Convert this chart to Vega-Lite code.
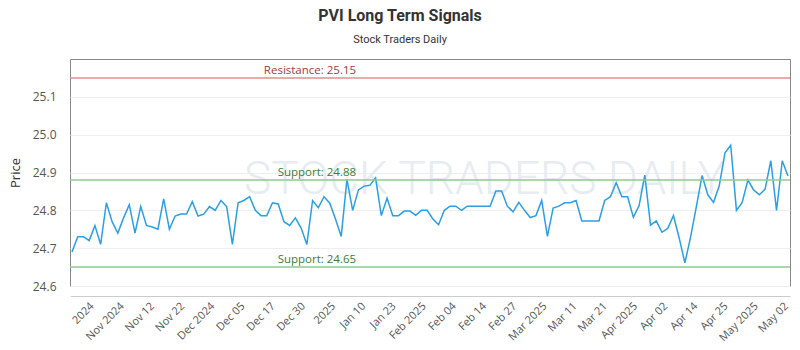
{
  "$schema": "https://vega.github.io/schema/vega-lite/v6.json",
  "width": 720,
  "height": 227,
  "autosize": {"type": "none"},
  "padding": {"left": 70, "top": 59, "right": 10, "bottom": 64},
  "background": "white",
  "title": {
    "text": "PVI Long Term Signals",
    "subtitle": "Stock Traders Daily",
    "anchor": "middle",
    "dx": -30,
    "font": "Roboto",
    "fontSize": 16,
    "fontWeight": "bold",
    "color": "#333333",
    "subtitleFont": "Roboto",
    "subtitleFontSize": 11,
    "subtitleColor": "#333333",
    "subtitlePadding": 10,
    "offset": 14
  },
  "config": {
    "view": {"stroke": "#888888", "strokeWidth": 1},
    "font": "Roboto",
    "axisX": {"labelOverlap": false, "labelBound": false}
  },
  "resolve": {"axis": {"x": "independent"}},
  "data": {
    "values": [
      {"i": 0, "price": 24.69}, {"i": 1, "price": 24.73}, {"i": 2, "price": 24.73}, {"i": 3, "price": 24.72},
      {"i": 4, "price": 24.76}, {"i": 5, "price": 24.71}, {"i": 6, "price": 24.82}, {"i": 7, "price": 24.77},
      {"i": 8, "price": 24.74}, {"i": 9, "price": 24.78}, {"i": 10, "price": 24.815}, {"i": 11, "price": 24.74},
      {"i": 12, "price": 24.81}, {"i": 13, "price": 24.76}, {"i": 14, "price": 24.756}, {"i": 15, "price": 24.75},
      {"i": 16, "price": 24.83}, {"i": 17, "price": 24.75}, {"i": 18, "price": 24.785}, {"i": 19, "price": 24.79},
      {"i": 20, "price": 24.79}, {"i": 21, "price": 24.823}, {"i": 22, "price": 24.785}, {"i": 23, "price": 24.79},
      {"i": 24, "price": 24.81}, {"i": 25, "price": 24.8}, {"i": 26, "price": 24.826}, {"i": 27, "price": 24.81},
      {"i": 28, "price": 24.71}, {"i": 29, "price": 24.82}, {"i": 30, "price": 24.826}, {"i": 31, "price": 24.836},
      {"i": 32, "price": 24.8}, {"i": 33, "price": 24.786}, {"i": 34, "price": 24.786}, {"i": 35, "price": 24.82},
      {"i": 36, "price": 24.817}, {"i": 37, "price": 24.77}, {"i": 38, "price": 24.76}, {"i": 39, "price": 24.78},
      {"i": 40, "price": 24.753}, {"i": 41, "price": 24.71}, {"i": 42, "price": 24.826}, {"i": 43, "price": 24.807},
      {"i": 44, "price": 24.836}, {"i": 45, "price": 24.819}, {"i": 46, "price": 24.777}, {"i": 47, "price": 24.731},
      {"i": 48, "price": 24.882}, {"i": 49, "price": 24.8}, {"i": 50, "price": 24.854}, {"i": 51, "price": 24.864},
      {"i": 52, "price": 24.866}, {"i": 53, "price": 24.886}, {"i": 54, "price": 24.786}, {"i": 55, "price": 24.832},
      {"i": 56, "price": 24.786}, {"i": 57, "price": 24.786}, {"i": 58, "price": 24.798}, {"i": 59, "price": 24.798},
      {"i": 60, "price": 24.787}, {"i": 61, "price": 24.8}, {"i": 62, "price": 24.8}, {"i": 63, "price": 24.777},
      {"i": 64, "price": 24.762}, {"i": 65, "price": 24.8}, {"i": 66, "price": 24.811}, {"i": 67, "price": 24.811},
      {"i": 68, "price": 24.8}, {"i": 69, "price": 24.811}, {"i": 70, "price": 24.811}, {"i": 71, "price": 24.811},
      {"i": 72, "price": 24.811}, {"i": 73, "price": 24.811}, {"i": 74, "price": 24.851}, {"i": 75, "price": 24.851},
      {"i": 76, "price": 24.811}, {"i": 77, "price": 24.796}, {"i": 78, "price": 24.821}, {"i": 79, "price": 24.8},
      {"i": 80, "price": 24.781}, {"i": 81, "price": 24.786}, {"i": 82, "price": 24.826}, {"i": 83, "price": 24.731},
      {"i": 84, "price": 24.806}, {"i": 85, "price": 24.811}, {"i": 86, "price": 24.82}, {"i": 87, "price": 24.82},
      {"i": 88, "price": 24.826}, {"i": 89, "price": 24.772}, {"i": 90, "price": 24.772}, {"i": 91, "price": 24.772},
      {"i": 92, "price": 24.772}, {"i": 93, "price": 24.826}, {"i": 94, "price": 24.836}, {"i": 95, "price": 24.873},
      {"i": 96, "price": 24.836}, {"i": 97, "price": 24.836}, {"i": 98, "price": 24.782}, {"i": 99, "price": 24.812},
      {"i": 100, "price": 24.893}, {"i": 101, "price": 24.761}, {"i": 102, "price": 24.772}, {"i": 103, "price": 24.742},
      {"i": 104, "price": 24.752}, {"i": 105, "price": 24.786}, {"i": 106, "price": 24.727}, {"i": 107, "price": 24.661},
      {"i": 108, "price": 24.73}, {"i": 109, "price": 24.81}, {"i": 110, "price": 24.892}, {"i": 111, "price": 24.841},
      {"i": 112, "price": 24.821}, {"i": 113, "price": 24.865}, {"i": 114, "price": 24.952}, {"i": 115, "price": 24.972},
      {"i": 116, "price": 24.8}, {"i": 117, "price": 24.821}, {"i": 118, "price": 24.88}, {"i": 119, "price": 24.854},
      {"i": 120, "price": 24.841}, {"i": 121, "price": 24.856}, {"i": 122, "price": 24.931}, {"i": 123, "price": 24.8},
      {"i": 124, "price": 24.931}, {"i": 125, "price": 24.891}
    ]
  },
  "layer": [
    {
      "data": {"values": [{"wm": "STOCK TRADERS DAILY"}]},
      "mark": {"type": "text", "font": "Roboto", "fontSize": 46, "fontWeight": 300, "color": "#e6ecf1", "align": "center", "baseline": "middle"},
      "encoding": {
        "x": {"datum": 72, "axis": null},
        "y": {"datum": 24.88},
        "text": {"field": "wm"}
      }
    },
    {
      "mark": {"type": "line", "color": "#2a9fe5", "strokeWidth": 1.5},
      "encoding": {
        "x": {
          "field": "i",
          "type": "quantitative",
          "scale": {"domain": [-0.35, 125.35], "nice": false, "zero": false},
          "axis": {
            "title": null,
            "values": [3.79, 9.06, 14.33, 19.6, 24.87, 30.14, 35.41, 40.68, 45.95, 51.22, 56.49, 61.76, 67.03, 72.3, 77.57, 82.84, 88.11, 93.38, 98.65, 103.92, 109.19, 114.46, 119.73, 125],
            "labelExpr": "['2024','Nov 2024','Nov 12','Nov 22','Dec 2024','Dec 05','Dec 17','Dec 30','2025','Jan 10','Jan 23','Feb 2025','Feb 04','Feb 14','Feb 27','Mar 2025','Mar 11','Mar 21','Apr 2025','Apr 02','Apr 14','Apr 25','May 2025','May 02'][round((datum.value - 3.79) / 5.27)]",
            "labelAngle": -45,
            "labelFont": "Open Sans",
            "labelFontSize": 11,
            "labelColor": "#555555",
            "labelPadding": 4,
            "labelOffset": -6,
            "labelOverlap": false,
            "offset": 10,
            "domainColor": "#cccccc",
            "ticks": false,
            "grid": false
          }
        },
        "y": {
          "field": "price",
          "type": "quantitative",
          "scale": {"domain": [24.6, 25.2], "nice": false, "zero": false},
          "axis": {
            "title": "Price",
            "values": [24.6, 24.7, 24.8, 24.9, 25.0, 25.1],
            "format": ".1f",
            "grid": true,
            "gridColor": "#eeeeee",
            "domain": false,
            "ticks": false,
            "labelPadding": 14,
            "labelFont": "Open Sans",
            "labelFontSize": 12,
            "labelColor": "#555555",
            "titleFont": "Open Sans",
            "titleFontSize": 13,
            "titleFontWeight": "normal",
            "titleColor": "#333333",
            "titlePadding": 10
          }
        }
      }
    },
    {
      "data": {
        "values": [
          {"level": 25.15, "kind": "Resistance", "label": "Resistance: 25.15"},
          {"level": 24.88, "kind": "Support", "label": "Support: 24.88"},
          {"level": 24.65, "kind": "Support", "label": "Support: 24.65"}
        ]
      },
      "layer": [
        {
          "mark": {"type": "rule", "strokeWidth": 1.5},
          "encoding": {
            "y": {"field": "level", "type": "quantitative"},
            "stroke": {
              "field": "kind",
              "type": "nominal",
              "scale": {"domain": ["Resistance", "Support"], "range": ["#e08e8e", "#90c890"]},
              "legend": null
            }
          }
        },
        {
          "mark": {"type": "text", "align": "right", "baseline": "bottom", "dy": -2, "font": "Open Sans", "fontSize": 11.5},
          "encoding": {
            "x": {"datum": 49.6, "axis": null},
            "y": {"field": "level", "type": "quantitative"},
            "text": {"field": "label"},
            "fill": {
              "field": "kind",
              "type": "nominal",
              "scale": {"domain": ["Resistance", "Support"], "range": ["#a33a3a", "#3a7d3a"]},
              "legend": null
            }
          }
        }
      ]
    }
  ]
}
